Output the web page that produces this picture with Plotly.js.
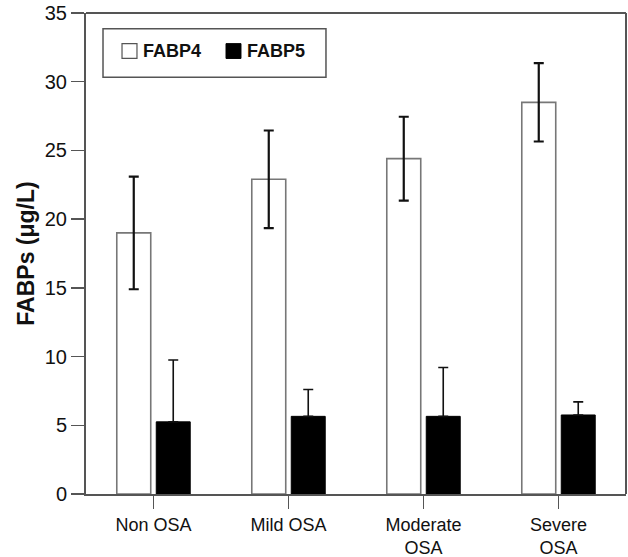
<!DOCTYPE html>
<html>
<head>
<meta charset="utf-8">
<script src="https://cdn.plot.ly/plotly-3.0.1.min.js"></script>
<style>html,body{margin:0;padding:0;background:#fff;}#chart{width:628px;height:557px;}</style>
</head>
<body>
<div id="chart"></div>
<script>
const categories = ['Non OSA', 'Mild OSA', 'Moderate<br>OSA', 'Severe<br>OSA'];
const seriesNames = ['FABP4', 'FABP5'];
const fabp4 = [19.0, 22.9, 24.4, 28.5];
const fabp4Err = [4.1, 3.55, 3.05, 2.85];
const fabp5 = [5.25, 5.65, 5.65, 5.75];
const fabp5Err = [4.5, 1.95, 3.55, 0.95];
const yTicks = [0, 5, 10, 15, 20, 25, 30, 35];

const FONT = 'Arial, "Liberation Sans", sans-serif';
const AXIS = '#555';

const traces = [
  {
    type: 'bar', name: seriesNames[0], x: categories, y: fabp4,
    marker: {color: '#ffffff', line: {color: '#777', width: 1.6}},
    error_y: {type: 'data', array: fabp4Err, visible: true, color: '#111', thickness: 2.2, width: 5},
    showlegend: false
  },
  {
    type: 'bar', name: seriesNames[1], x: categories, y: fabp5,
    marker: {color: '#000000', line: {color: '#000', width: 1}},
    error_y: {type: 'data', symmetric: false, array: fabp5Err, arrayminus: fabp5Err.map(() => 0),
              visible: true, color: '#111', thickness: 1.6, width: 5},
    showlegend: false
  }
];

const layout = {
  width: 628, height: 557,
  margin: {l: 86, r: 2, t: 13, b: 63},
  paper_bgcolor: '#fff', plot_bgcolor: '#fff',
  barmode: 'group', bargap: 0.415, bargroupgap: 0.14,
  font: {family: FONT, color: '#111'},
  xaxis: {
    type: 'category', range: [-0.5, 3.5],
    showline: true, linecolor: AXIS, linewidth: 2, mirror: false,
    ticks: 'outside', ticklen: 13, tickwidth: 1.5, tickcolor: AXIS,
    tickfont: {size: 18, family: FONT, color: '#111'},
    showgrid: false, zeroline: false, fixedrange: true
  },
  yaxis: {
    range: [0, 35], tickmode: 'array', tickvals: yTicks, ticktext: yTicks.map(String),
    ticklabeloverflow: 'allow',
    showline: true, linecolor: AXIS, linewidth: 2, mirror: false,
    ticks: 'outside', ticklen: 13, tickwidth: 1.5, tickcolor: AXIS,
    tickfont: {size: 20, family: FONT, color: '#111'},
    showgrid: false, zeroline: false, fixedrange: true,
    title: {text: '<b>FABPs (μg/L)</b>', font: {size: 23, family: FONT, color: '#111'}, standoff: 4}
  },
  shapes: [
    {type: 'line', xref: 'paper', yref: 'paper', x0: 0, x1: 1, y0: 1, y1: 1, line: {color: AXIS, width: 2}},
    {type: 'line', xref: 'paper', yref: 'paper', x0: 1, x1: 1, y0: 0, y1: 1, line: {color: AXIS, width: 2}},
    {type: 'rect', xref: 'paper', yref: 'paper', x0: 0.0315, x1: 0.4444, y0: 0.8665, y1: 0.9671,
     line: {color: '#555', width: 1.5}, fillcolor: 'rgba(0,0,0,0)'},
    {type: 'rect', xref: 'paper', yref: 'paper', x0: 0.0667, x1: 0.0944, y0: 0.9055, y1: 0.9363,
     line: {color: '#555', width: 1.2}, fillcolor: '#fff'},
    {type: 'rect', xref: 'paper', yref: 'paper', x0: 0.2593, x1: 0.2870, y0: 0.9055, y1: 0.9363,
     line: {color: '#000', width: 1}, fillcolor: '#000'}
  ],
  annotations: [
    {xref: 'paper', yref: 'paper', x: 0.1019, y: 0.9209, xanchor: 'left', yanchor: 'middle',
     text: '<b>' + seriesNames[0] + '</b>', showarrow: false, font: {size: 18, family: FONT, color: '#111'}},
    {xref: 'paper', yref: 'paper', x: 0.2944, y: 0.9209, xanchor: 'left', yanchor: 'middle',
     text: '<b>' + seriesNames[1] + '</b>', showarrow: false, font: {size: 18, family: FONT, color: '#111'}}
  ]
};

Plotly.newPlot('chart', traces, layout, {displayModeBar: false, staticPlot: true});
</script>
</body>
</html>
